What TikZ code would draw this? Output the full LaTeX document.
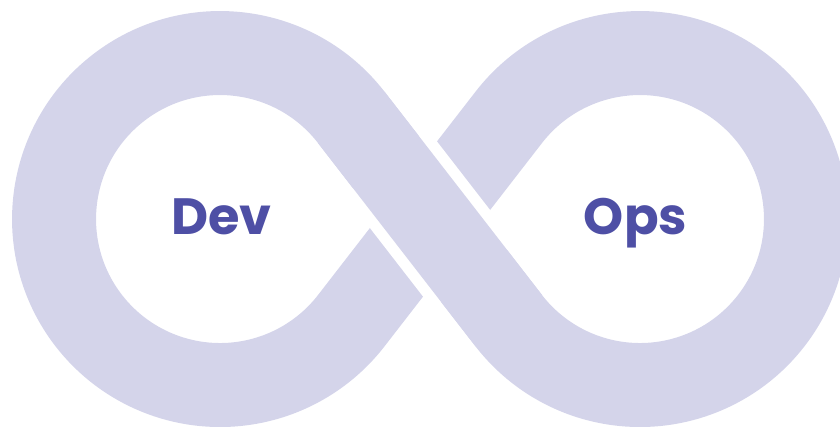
\documentclass[tikz,border=0pt]{standalone}
\usepackage{fontspec}
\setmainfont{Poppins}
\usetikzlibrary{calc}
\definecolor{lav}{HTML}{D4D4EA}
\definecolor{txt}{HTML}{4E4FA5}
\begin{document}
\begin{tikzpicture}[x=1pt,y=1pt,
  band/.style={draw=lav, line width=84pt},
  gapband/.style={draw=white, line width=106pt},
  label/.style={anchor=base, text=txt, font=\bfseries\fontsize{51}{51}\selectfont, inner sep=0pt}]
\useasboundingbox (0,0) rectangle (840,426);
\clip (0,0) rectangle (840,426);
\coordinate (C) at (430,207);
\coordinate (TLu) at (351.2,308.7);
\coordinate (TLd) at (351.2,105.3);
\coordinate (TRu) at (508.8,308.7);
\coordinate (TRd) at (508.8,105.3);
\coordinate (G1) at ($(TLu)!0.22!(TRd)$);
\coordinate (G2) at ($(TLu)!0.78!(TRd)$);
% whole infinity loop
\draw[band] (C) -- (TLu) arc[start angle=37.8, end angle=322.2, radius=166]
  -- (C) -- (TRu) arc[start angle=142.2, end angle=-142.2, radius=166] -- cycle;
% over-crossing band with white gap
\draw[gapband] (G1) -- (G2);
\draw[band] (TLu) -- (TRd);
\node[label] (dev) at (221.5,191) {Dev};
\node[label] (ops) at (635.5,191) {Ops};
\end{tikzpicture}
\end{document}
